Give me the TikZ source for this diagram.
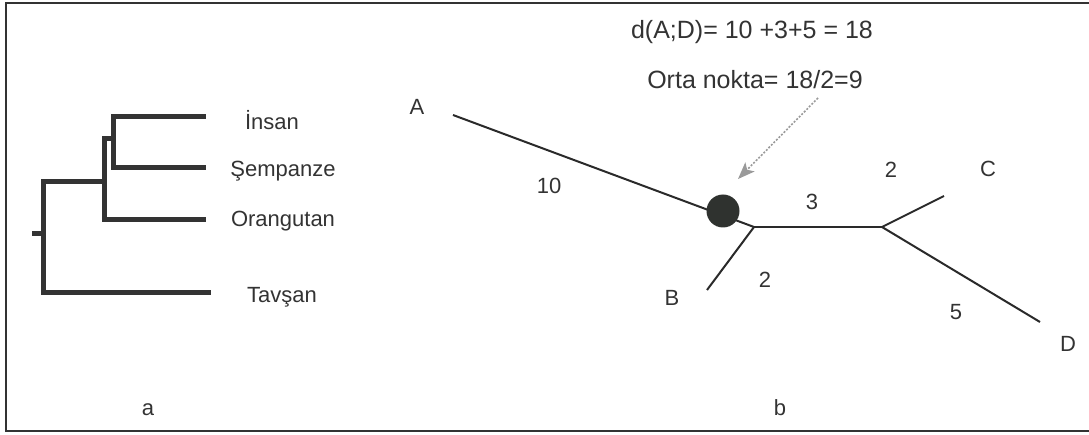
\documentclass[tikz,border=0pt]{standalone}
\usepackage{fontspec}
\setmainfont{Liberation Sans}
\usetikzlibrary{arrows.meta}
\definecolor{ink}{HTML}{333333}
\definecolor{branch}{HTML}{2A2A2A}
\definecolor{dot}{HTML}{2F322F}
\definecolor{pointer}{HTML}{9A9A9A}
\begin{document}
\begin{tikzpicture}[x=1pt,y=-1pt,
  lbl/.style={anchor=base,inner sep=0pt,text=ink,font=\fontsize{22}{26}\selectfont},
  biglbl/.style={lbl,font=\fontsize{25}{30}\selectfont},
  clade/.style={line width=5pt,draw=ink,line cap=rect},
  edge/.style={line width=2pt,draw=branch},
  midpt/.style={circle,fill=dot,minimum size=33pt,inner sep=0pt}]
  \useasboundingbox (0,0) rectangle (1089,435);
  \begin{scope}
    \clip (0,0) rectangle (1089,435);
    \draw[line width=2pt,draw=ink] (6,3) rectangle (1100,431);
  \end{scope}

  % --- a: rooted cladogram ---
  \coordinate (ri) at (34,234);
  \coordinate (r0) at (43,234);
  \coordinate (rt) at (43,182);
  \coordinate (rb) at (43,293);
  \coordinate (h1) at (104,182);
  \coordinate (h1t) at (104,139);
  \coordinate (h1b) at (104,220);
  \coordinate (h2) at (113,139);
  \coordinate (h2t) at (113,117);
  \coordinate (h2b) at (113,168);
  \coordinate (tI) at (203,117);
  \coordinate (tS) at (203,168);
  \coordinate (tO) at (203,220);
  \coordinate (tT) at (208,293);
  \draw[clade] (ri) -- (r0);
  \draw[clade] (rt) -- (rb);
  \draw[clade] (rt) -- (h1);
  \draw[clade] (rb) -- (tT);
  \draw[clade] (h1t) -- (h1b);
  \draw[clade] (h1b) -- (tO);
  \draw[clade] (h1t) -- (h2);
  \draw[clade] (h2t) -- (h2b);
  \draw[clade] (h2t) -- (tI);
  \draw[clade] (h2b) -- (tS);
  \node[lbl] (insan) at (272,130) {İnsan};
  \node[lbl] (sempanze) at (283,177) {Şempanze};
  \node[lbl] (orangutan) at (283,227) {Orangutan};
  \node[lbl] (tavsan) at (282,303) {Tavşan};
  \node[lbl] (capa) at (148,415) {a};

  % --- b: unrooted tree with midpoint ---
  \coordinate (A) at (453,115);
  \coordinate (j1) at (754,227);
  \coordinate (j2) at (882,227);
  \coordinate (B) at (707,290);
  \coordinate (C) at (944,196);
  \coordinate (D) at (1040,322);
  \draw[edge] (A) -- (j1);
  \draw[edge] (j1) -- (B);
  \draw[edge] (j1) -- (j2);
  \draw[edge] (j2) -- (C);
  \draw[edge] (j2) -- (D);
  \node[midpt] (mid) at (723,211) {};

  \node[lbl] (la) at (417,115) {A};
  \node[lbl] (lb) at (672,306) {B};
  \node[lbl] (lc) at (988,177) {C};
  \node[lbl] (ld) at (1068,352) {D};
  \node[lbl] (w10) at (549,194) {10};
  \node[lbl] (w3) at (812,210) {3};
  \node[lbl] (w2c) at (891,178) {2};
  \node[lbl] (w2b) at (765,288) {2};
  \node[lbl] (w5) at (956,320) {5};
  \node[biglbl] (dist) at (752,39) {d(A;D)= 10 +3+5 = 18};
  \node[biglbl] (orta) at (755,89) {Orta nokta= 18/2=9};
  \node[lbl] (capb) at (780,415) {b};

  \coordinate (ptail) at (818,98);
  \coordinate (phead) at (738,179);
  \draw[pointer,line width=1.6pt,dash pattern=on 2pt off 1.6pt,
        -{Stealth[length=17pt,width=13pt,inset=4pt,fill=pointer]}] (ptail) -- (phead);
\end{tikzpicture}
\end{document}
